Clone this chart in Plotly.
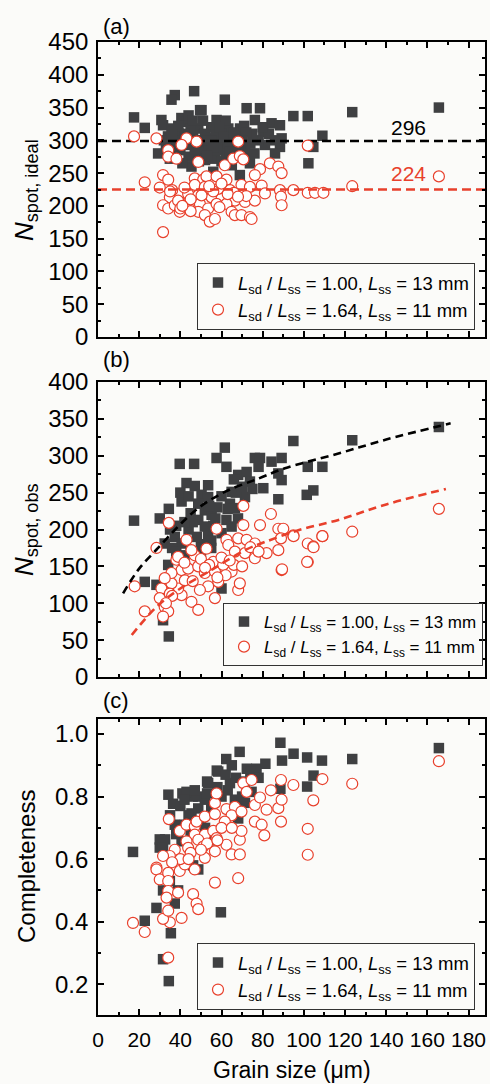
import plotly.graph_objects as go

# ---------------- data ----------------
# Panel (a): N_spot, ideal
a_sq_x = [17.5,22.7,30.8,31.6,35.7,40.5,43,39,34,29.2,34.9,37.3,43.8,48.7,50.3,46.2,51.9,53.5,56.8,48.7,45.4,57.6,63.3,61.6,64.9,69,69.7,66.5,73,73.8,72.2,78.7,76.2,80.3,81.1,84.3,88.4,89.2,88.4,94.9,101.9,102.2,104.6,109,68.9,56,53.5,42.2,58.4,71.4,50.3,37.3,61.6,35.7,46.7,49.6,123.5,165.6,
          40,44,47,52,55,60,62,65,67,70,74,76,78,83,86,38,33,36,41,58,60,63,54,57,66,71,45,50,75,80,42,52,62,32,86,
          39,43,47,51,55,59,64,68,72,44,49,56,61,36,46,53,65,70]
a_sq_y = [335,319,331,323,318,334,328,311,306,280,272,293,303,318,346,308,293,283,272,278,260,331,318,290,303,318,293,278,275,265,349,349,331,313,293,326,323,303,290,337,337,265,290,307,247,252,303,293,298,288,288,369,362,362,375,346,343,350,
          285,275,300,310,320,310,275,285,300,305,295,280,300,310,280,300,290,280,265,285,268,295,295,308,312,322,318,300,310,320,310,270,330,300,300,
          322,296,286,330,300,320,282,292,312,338,268,290,305,308,330,276,262,300]
a_ci_x = [17.5,28.4,43,47.9,40.6,68.1,101.9,34.1,34.1,38.1,48.7,61.6,65.7,68.9,70.6,78.7,76.2,83.5,87.6,89.2,31.6,22.7,30,34.1,47,51.1,52.7,57.6,62.4,47,51.9,64.1,69.7,73.8,79.5,81.1,88.4,94.9,101.9,105.4,109.5,88.9,89.2,34.9,39.7,43.8,48.7,55.2,60,66.5,71.4,76.2,31.6,34.1,37.3,39.7,44.6,49.5,53.5,57.6,62.4,48.7,51.9,54.3,56.8,64.9,66.5,69.7,73.8,74.6,31.6,50.3,58.4,38.9,123.5,165.6,
          36,42,45,56,60,66,72,40,54,63,45,59,68,35,41]
a_ci_y = [306,303,303,298,293,298,292,285,275,272,267,262,272,276,271,256,247,265,260,250,247,236,228,240,242,240,245,245,240,232,229,224,232,229,231,219,224,224,220,220,220,214,201,213,218,218,216,213,211,208,206,208,201,196,201,191,206,203,196,203,203,191,186,176,180,191,186,186,183,180,160,216,226,208,230,245,
          224,228,210,222,234,220,215,196,230,218,192,198,214,222,200]
a_mean_black = 299   # drawn level of the dashed line (label 296)
a_mean_red = 225     # drawn level of the dashed line (label 224)
a_label_black = "296"
a_label_red = "224"

# Panel (b): N_spot, obs
b_sq_x = [17.5,30,34.4,39.7,46.7,43,47,40.6,57.6,61.6,62.4,53.5,50.3,53.5,48.7,51.9,55.2,48.7,51.9,53.5,64.9,64.1,68.1,72.2,73.8,71.4,66.5,62.4,64.9,76.2,78.7,80.3,84.3,89.2,87.6,89.2,87.6,94.9,101.9,101.4,104.6,109,37.3,40.6,22.7,28.4,34.1,31.6,34.4,60,32.4,123.5,165.6,
          36,38,42,45,50,55,44,46,56,58,60,45,42,38,57,60,67,70,75,68,35,40,50,55,63,66,78,48,54,44]
b_sq_y = [212,215,228,289,289,263,259,238,297,311,285,260,247,244,235,226,220,213,204,192,251,235,274,278,265,244,229,213,204,297,297,256,292,297,276,267,241,320,285,247,253,285,190,181,129,125,152,77,55,120,181,321,339,
          175,170,165,170,180,185,200,210,205,230,245,222,210,205,215,195,250,258,255,215,200,250,170,175,228,268,285,190,232,245]
b_ci_x = [34.4,57.6,70.6,70.6,78.7,84,87.6,90,94.9,109,43,62.4,68.1,72.2,76.2,88.9,101.9,28.4,47,52.7,63.3,66.5,71.4,76.2,81.9,87.6,89.2,101.9,104.6,38.1,40.6,43.8,48.7,51.9,56.8,64.9,68.1,68.9,58.4,53.5,49.5,45.4,48.7,40.6,38.9,35.7,30.8,30,32.4,34.1,31.6,22.7,17.8,35.7,32.4,42.2,34.9,56.8,38.9,45.4,56,60.8,123.5,165.6,101.6,109,104.7,95,89.4,
          50,54,60,62,66,74,78,46,42,36,52,58,64,70,33]
b_ci_y = [209,201,232,206,206,221,201,201,192,191,186,186,188,186,181,188,181,175,165,174,179,170,168,161,168,172,145,156,177,159,145,147,150,141,143,143,118,127,129,123,118,102,91,111,120,127,120,107,95,89,82,89,123,141,134,131,113,107,163,172,156,152,197,228,156,191,176,191,146,
          160,152,162,138,152,176,170,130,155,110,148,135,158,150,100]
b_fit_black_x = [12.2,20,29.2,38.9,48.7,61.6,77.9,90.8,116.8,140,171.3]
b_fit_black_y = [113.5,147,175,204,229,251,269,283,303,322,344]
b_fit_red_x = [16.4,28.4,40,55,71.4,81,97.3,116.8,140,169]
b_fit_red_y = [57,95,120,145,172,183,199,213,234,255]

# Panel (c): Completeness
c_sq_x = [17,34.2,41,46,53,57.7,62.3,68.8,72.3,77,81.3,88.6,89.4,95,101.6,108.8,104.7,101.6,123.5,165.6,88.6,32.6,30,22.7,28.4,31.6,34.4,35.4,37.3,31.6,38.9,59.7,34.9,48.7,
          43,48.7,53.5,58.4,64.1,66.5,71.4,48.7,51.9,45.4,36.5,37.3,42.2,30,31.6,54.3,68.1,74.6,71.4,40.6,46.2,
          40,44,50,55,60,63,67,70,38,52,56,
          42,47,58,62,65,74,78,35,45,53]
c_sq_y = [0.623,0.806,0.81,0.8,0.848,0.883,0.92,0.943,0.889,0.889,0.905,0.972,0.915,0.937,0.925,0.915,0.867,0.832,0.92,0.955,0.825,0.663,0.637,0.403,0.444,0.28,0.21,0.363,0.458,0.5,0.5,0.43,0.53,0.567,
          0.815,0.8,0.843,0.88,0.843,0.79,0.78,0.762,0.79,0.746,0.777,0.71,0.71,0.663,0.636,0.673,0.73,0.815,0.848,0.657,0.58,
          0.77,0.74,0.72,0.76,0.8,0.82,0.86,0.8,0.68,0.7,0.66,
          0.79,0.82,0.83,0.87,0.9,0.88,0.86,0.74,0.69,0.81]
c_ci_x = [34.4,39.7,43,47,47.9,51.9,56.8,56.8,57.6,62.4,66.5,64.9,69.7,70.6,74.6,72.2,76.2,78.7,81.9,84,88.9,87.6,89.2,88.9,94.9,109,104.6,101.9,101.9,76.2,79.5,80.8,61.6,47,43,51.9,56,48.7,43.8,37.3,34.9,31.6,51.1,56.8,62.4,64.9,68.9,68.9,69.7,51.9,28.4,57.6,
          28.4,30,34.1,34.1,39.7,42.2,47,34.1,33.3,38.9,46.2,47.9,48.7,40.6,34.9,31.6,34.1,17,22.7,34.1,56.8,68.1,123.5,165.6,
          40,45,53,60,36,44,50,58,65]
c_ci_y = [0.728,0.69,0.71,0.705,0.72,0.736,0.744,0.779,0.81,0.76,0.767,0.74,0.752,0.843,0.853,0.815,0.773,0.797,0.758,0.82,0.853,0.763,0.79,0.72,0.837,0.856,0.788,0.697,0.614,0.72,0.71,0.676,0.72,0.678,0.657,0.678,0.69,0.662,0.636,0.63,0.61,0.61,0.64,0.625,0.646,0.615,0.615,0.662,0.69,0.604,0.573,0.667,
          0.567,0.535,0.556,0.53,0.562,0.583,0.567,0.498,0.477,0.493,0.488,0.458,0.44,0.412,0.398,0.409,0.435,0.396,0.367,0.285,0.525,0.539,0.841,0.913,
          0.6,0.62,0.65,0.7,0.59,0.6,0.63,0.66,0.7]

legend_black = "<i>L</i><sub>sd</sub> / <i>L</i><sub>ss</sub> = 1.00, <i>L</i><sub>ss</sub> = 13 mm"
legend_red = "<i>L</i><sub>sd</sub> / <i>L</i><sub>ss</sub> = 1.64, <i>L</i><sub>ss</sub> = 11 mm"
x_ticks = [0, 20, 40, 60, 80, 100, 120, 140, 160, 180]

# ---------------- style ----------------
W, H = 490, 1084
FONT = "Arial, Liberation Sans, sans-serif"
GRAY = "#3f4042"
RED = "#e8402c"
BG = "#fbfbf9"

def py(p):
    return 1 - p / H

x_dom = [98 / W, 485 / W]
doms = {
    "a": [py(337), py(42)],
    "b": [py(677), py(382)],
    "c": [py(1015), py(719)],
}

fig = go.Figure()

def sq(x, y, xa, ya, leg, show):
    return go.Scatter(x=x, y=y, mode="markers", xaxis=xa, yaxis=ya, legend=leg,
                      name=legend_black, showlegend=show,
                      marker=dict(symbol="square", size=10.5, color=GRAY, line=dict(width=0)))

def ci(x, y, xa, ya, leg, show):
    return go.Scatter(x=x, y=y, mode="markers", xaxis=xa, yaxis=ya, legend=leg,
                      name=legend_red, showlegend=show,
                      marker=dict(symbol="circle", size=11, color="white", line=dict(width=1.2, color=RED)))

# panel a
fig.add_trace(sq(a_sq_x, a_sq_y, "x", "y", "legend", True))
fig.add_trace(go.Scatter(x=[0, 188], y=[a_mean_black] * 2, mode="lines", xaxis="x", yaxis="y",
                         showlegend=False, line=dict(color="black", width=2.6, dash="9px,5px")))
fig.add_trace(ci(a_ci_x, a_ci_y, "x", "y", "legend", True))
fig.add_trace(go.Scatter(x=[0, 188], y=[a_mean_red] * 2, mode="lines", xaxis="x", yaxis="y",
                         showlegend=False, line=dict(color=RED, width=2.6, dash="9px,5px")))

# panel b
fig.add_trace(sq(b_sq_x, b_sq_y, "x2", "y2", "legend2", True))
fig.add_trace(ci(b_ci_x, b_ci_y, "x2", "y2", "legend2", True))
fig.add_trace(go.Scatter(x=b_fit_black_x, y=b_fit_black_y, mode="lines", xaxis="x2", yaxis="y2",
                         showlegend=False, line=dict(color="black", width=2.6, dash="8px,5px", shape="spline")))
fig.add_trace(go.Scatter(x=b_fit_red_x, y=b_fit_red_y, mode="lines", xaxis="x2", yaxis="y2",
                         showlegend=False, line=dict(color=RED, width=2.6, dash="8px,5px", shape="spline")))

# panel c
fig.add_trace(sq(c_sq_x, c_sq_y, "x3", "y3", "legend3", True))
fig.add_trace(ci(c_ci_x, c_ci_y, "x3", "y3", "legend3", True))

axis_common = dict(showline=True, linecolor="black", linewidth=1.6, mirror="allticks",
                   ticks="inside", ticklen=6, tickwidth=1.5, tickcolor="black",
                   showgrid=False, zeroline=False, automargin=False)

for i, key in enumerate(["a", "b", "c"], start=1):
    xname = "xaxis" if i == 1 else f"xaxis{i}"
    ya = "y" if i == 1 else f"y{i}"
    fig.layout[xname] = dict(axis_common, domain=x_dom, anchor=ya, range=[0, 188],
                             tickvals=x_ticks, showticklabels=(key == "c"), tickangle=0,
                             ticklabelstandoff=5,
                             tickfont=dict(family=FONT, size=21, color="black"),
                             minor=dict(ticks="inside", ticklen=3.5, tickwidth=1.5, dtick=10, tickcolor="black"))

yfont = dict(family=FONT, size=24, color="black")
fig.layout.yaxis = dict(axis_common, domain=doms["a"], anchor="x", range=[0, 450], dtick=50,
                        ticklabelstandoff=3, tickfont=yfont,
                        minor=dict(ticks="inside", ticklen=3.5, tickwidth=1.5, dtick=25, tickcolor="black"))
fig.layout.yaxis2 = dict(axis_common, domain=doms["b"], anchor="x2", range=[0, 400], dtick=50,
                         ticklabelstandoff=3, tickfont=yfont,
                         minor=dict(ticks="inside", ticklen=3.5, tickwidth=1.5, dtick=25, tickcolor="black"))
fig.layout.yaxis3 = dict(axis_common, domain=doms["c"], anchor="x3", range=[0.1016, 1.048],
                         tickvals=[0.2, 0.4, 0.6, 0.8, 1.0], ticktext=["0.2", "0.4", "0.6", "0.8", "1.0"],
                         ticklabelstandoff=3, tickfont=yfont,
                         minor=dict(ticks="inside", ticklen=3.5, tickwidth=1.5, tickvals=[0.3, 0.5, 0.7, 0.9], tickcolor="black"))

leg_common = dict(bgcolor="rgba(0,0,0,0)", bordercolor="#333333", borderwidth=1,
                  xanchor="left", yanchor="top", tracegroupgap=0, itemwidth=30)
fig.layout.legend = dict(leg_common, x=197 / W, y=py(263), font=dict(family=FONT, size=18.5, color="black"))
fig.layout.legend2 = dict(leg_common, x=223 / W, y=py(603), font=dict(family=FONT, size=17, color="black"))
fig.layout.legend3 = dict(leg_common, x=197 / W, y=py(943), font=dict(family=FONT, size=18.5, color="black"))

ann = []
for txt, yy in [("(a)", 26), ("(b)", 359), ("(c)", 700)]:
    ann.append(dict(text=txt, x=116 / W, y=py(yy), xref="paper", yref="paper", showarrow=False,
                    xanchor="center", yanchor="middle",
                    font=dict(family=FONT, size=22, color="black")))
ann.append(dict(text="<i>N</i><sub>spot, ideal</sub>", x=26 / W, y=py(190), xref="paper", yref="paper",
                xanchor="center", yanchor="middle",
                showarrow=False, textangle=-90, font=dict(family=FONT, size=26, color="black")))
ann.append(dict(text="<i>N</i><sub>spot, obs</sub>", x=26 / W, y=py(530), xref="paper", yref="paper",
                xanchor="center", yanchor="middle",
                showarrow=False, textangle=-90, font=dict(family=FONT, size=26, color="black")))
ann.append(dict(text="Completeness", x=26 / W, y=py(867), xref="paper", yref="paper",
                xanchor="center", yanchor="middle",
                showarrow=False, textangle=-90, font=dict(family=FONT, size=24, color="black")))
ann.append(dict(text="Grain size (μm)", x=292 / W, y=py(1070), xref="paper", yref="paper",
                xanchor="center", yanchor="middle",
                showarrow=False, font=dict(family=FONT, size=23, color="black")))
ann.append(dict(text=a_label_black, x=151, y=320, xref="x", yref="y", showarrow=False,
                xanchor="center", yanchor="middle",
                font=dict(family=FONT, size=21, color="black")))
ann.append(dict(text=a_label_red, x=151, y=249, xref="x", yref="y", showarrow=False,
                xanchor="center", yanchor="middle",
                font=dict(family=FONT, size=21, color=RED)))

fig.update_layout(width=W, height=H, margin=dict(l=0, r=0, t=0, b=0, autoexpand=False), autosize=False,
                  paper_bgcolor=BG, plot_bgcolor=BG, annotations=ann,
                  font=dict(family=FONT, color="black"))

fig.write_html("out.html")
